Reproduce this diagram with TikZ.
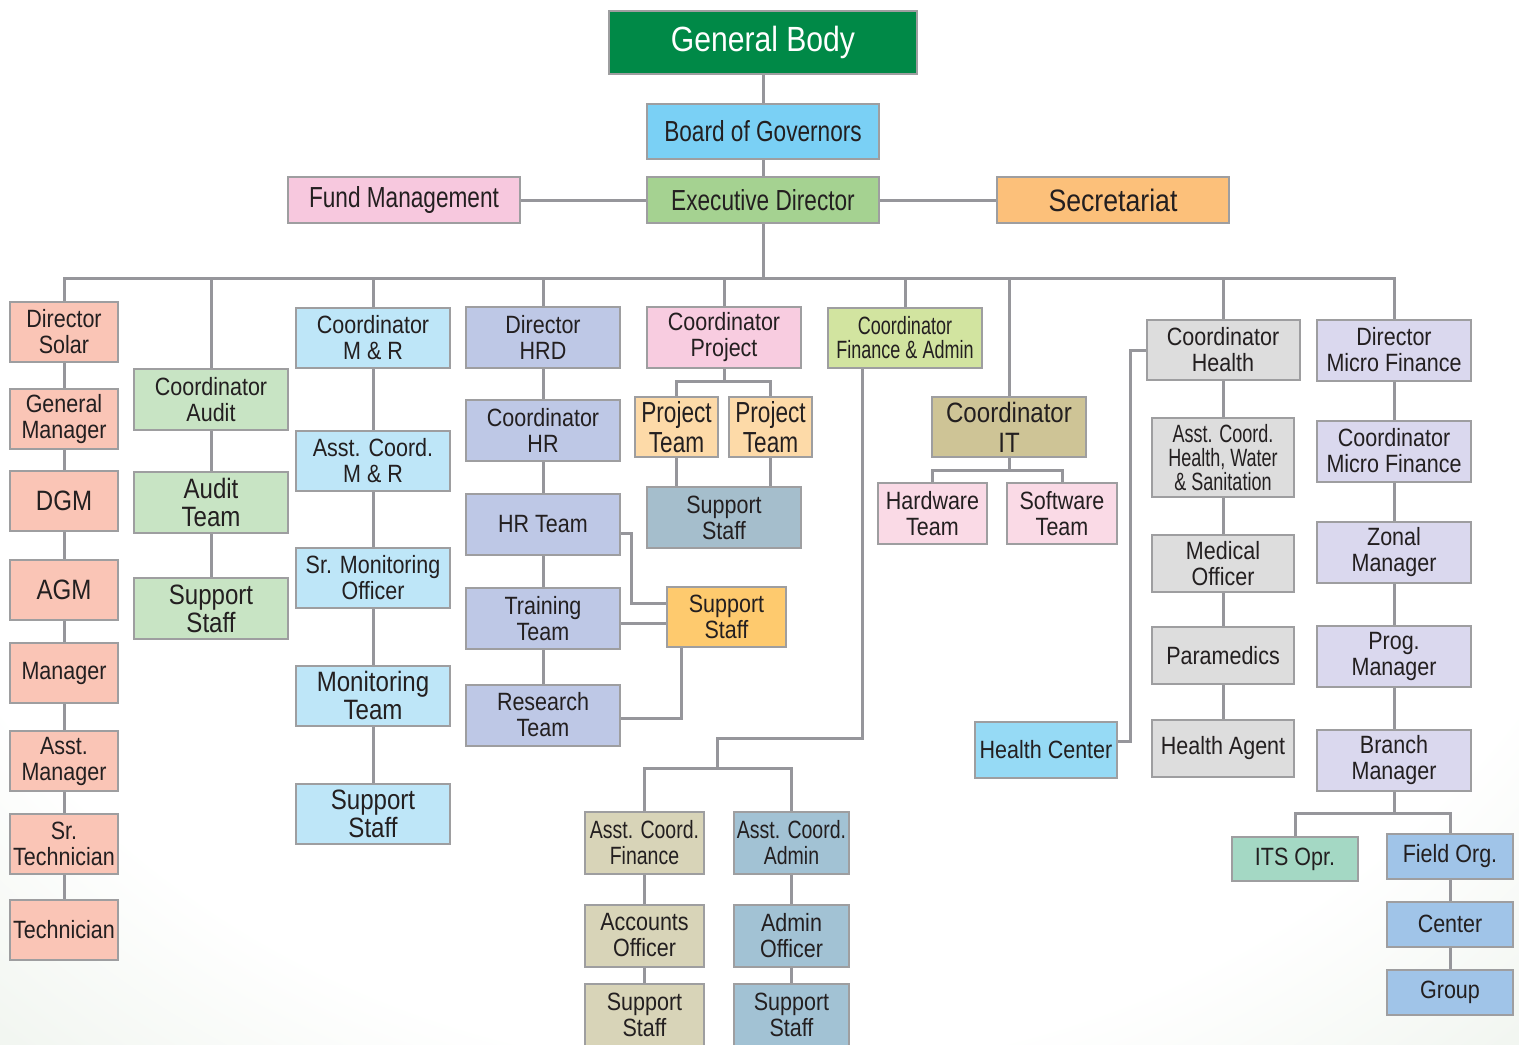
\documentclass[tikz,border=0pt]{standalone}
\usepackage{fontspec}
\setmainfont{Liberation Sans}[FakeStretch=0.86]
\newfontfamily\condfont{Liberation Sans}[FakeStretch=0.78]
\newfontfamily\narrowfont{Liberation Sans}[FakeStretch=0.72]
\usetikzlibrary{calc}

\definecolor{ink}{RGB}{35,31,32}
\definecolor{boxline}{RGB}{158,158,160}
\definecolor{linkgray}{RGB}{150,150,155}
\definecolor{bggreen}{RGB}{203,219,199}
\definecolor{gbgreen}{RGB}{0,137,71}
\definecolor{bogblue}{RGB}{122,208,245}
\definecolor{edgreen}{RGB}{165,210,145}
\definecolor{fmpink}{RGB}{247,200,222}
\definecolor{secorange}{RGB}{252,192,122}
\definecolor{salmon}{RGB}{250,197,182}
\definecolor{audgreen}{RGB}{200,228,196}
\definecolor{mrblue}{RGB}{190,230,248}
\definecolor{hrdblue}{RGB}{190,200,230}
\definecolor{projpink}{RGB}{248,204,224}
\definecolor{projpeach}{RGB}{253,218,168}
\definecolor{supgray}{RGB}{165,190,204}
\definecolor{suporange}{RGB}{254,202,110}
\definecolor{fagreen}{RGB}{210,228,160}
\definecolor{itkhaki}{RGB}{206,196,150}
\definecolor{itpink}{RGB}{250,218,230}
\definecolor{hcblue}{RGB}{150,218,245}
\definecolor{hlgray}{RGB}{221,221,221}
\definecolor{mflav}{RGB}{218,216,238}
\definecolor{itsmint}{RGB}{164,216,196}
\definecolor{fieldblue}{RGB}{160,196,232}
\definecolor{finbeige}{RGB}{216,212,184}
\definecolor{adminblue}{RGB}{162,194,212}

\pgfdeclareradialshading{bgglow}{\pgfpoint{0bp}{0bp}}{color(0bp)=(white); color(12bp)=(white); color(25bp)=(bggreen); color(50bp)=(bggreen)}

\begin{document}
\begin{tikzpicture}[x=0.5pt, y=-0.5pt,
    box/.style={draw=boxline, line width=1pt, align=center, inner sep=1pt, text=ink, font=\fontsize{12.5}{13}\selectfont},
    sz/.style 2 args={minimum width=#1*0.5pt, minimum height=#2*0.5pt},
    top/.style={font=\condfont\fontsize{14.5}{15}\selectfont},
    large/.style={font=\fontsize{14}{14}\selectfont},
    cond/.style={font=\condfont\fontsize{12.5}{13}\selectfont},
    narrow/.style={font=\narrowfont\fontsize{12.5}{12}\selectfont},
    link/.style={draw=linkgray, line width=1.5pt}]
    \useasboundingbox (0,0) rectangle (1519,1044);
    \begin{scope}
        \clip (0,0) rectangle (1519,1044);
        \shade[shading=bgglow] (-1140,-1450) rectangle (2660,1950);
    \end{scope}

    % top of the chart
    \node[box, sz={308}{63}, fill=gbgreen, text=white, font=\fontsize{17.5}{18}\selectfont] (gb) at (763,42.5) {General Body};
    \node[box, top, sz={232}{55}, fill=bogblue] (bog) at (763,131.5) {Board of Governors};
    \node[box, top, sz={232}{46}, fill=edgreen] (ed) at (763,200) {Executive Director};
    \node[box, top, sz={232}{46}, fill=fmpink] (fm) at (404,200) {Fund Management};
    \node[box, sz={232}{46}, fill=secorange, font=\fontsize{15.5}{16}\selectfont] (sec) at (1113,200) {Secretariat};

    % solar
    \node[box, sz={108}{60}, fill=salmon] (ds) at (64,332) {Director\\Solar};
    \node[box, sz={108}{60}, fill=salmon] (gm) at (64,419) {General\\Manager};
    \node[box, large, sz={108}{60}, fill=salmon] (dgm) at (64,501) {DGM};
    \node[box, large, sz={108}{60}, fill=salmon] (agm) at (64,590) {AGM};
    \node[box, sz={108}{60}, fill=salmon] (mgr) at (64,673) {Manager};
    \node[box, sz={108}{60}, fill=salmon] (amgr) at (64,761) {Asst.\\Manager};
    \node[box, sz={108}{60}, fill=salmon] (stech) at (64,844) {Sr.\\Technician};
    \node[box, sz={108}{60}, fill=salmon] (tech) at (64,930) {Technician};

    % audit
    \node[box, sz={154}{61}, fill=audgreen] (ca) at (211,399.5) {Coordinator\\Audit};
    \node[box, large, sz={154}{61}, fill=audgreen] (at) at (211,502.5) {Audit\\Team};
    \node[box, large, sz={154}{61}, fill=audgreen] (ss2) at (211,608.5) {Support\\Staff};

    % monitoring
    \node[box, sz={154}{60}, fill=mrblue] (cmr) at (373,338) {Coordinator\\M \& R};
    \node[box, sz={154}{60}, fill=mrblue] (amr) at (373,461) {Asst. Coord.\\M \& R};
    \node[box, sz={154}{60}, fill=mrblue] (smo) at (373,578) {Sr. Monitoring\\Officer};
    \node[box, large, sz={154}{60}, fill=mrblue] (mt) at (373,695.5) {Monitoring\\Team};
    \node[box, large, sz={154}{60}, fill=mrblue] (ss3) at (373,813.5) {Support\\Staff};

    % hrd
    \node[box, sz={154}{61}, fill=hrdblue] (dhrd) at (543,337.5) {Director\\HRD};
    \node[box, sz={154}{61}, fill=hrdblue] (chr) at (543,430.5) {Coordinator\\HR};
    \node[box, sz={154}{61}, fill=hrdblue] (hrt) at (543,524.5) {HR Team};
    \node[box, sz={154}{61}, fill=hrdblue] (tt) at (543,618.5) {Training\\Team};
    \node[box, sz={154}{61}, fill=hrdblue] (rt) at (543,715) {Research\\Team};
    \node[box, sz={119}{60}, fill=suporange] (ss4) at (726.5,617) {Support\\Staff};

    % project
    \node[box, sz={154}{61}, fill=projpink] (cp) at (724,337.5) {Coordinator\\Project};
    \node[box, top, sz={83}{60}, fill=projpeach] (pt1) at (676.5,427) {Project\\Team};
    \node[box, top, sz={83}{60}, fill=projpeach] (pt2) at (770.5,427) {Project\\Team};
    \node[box, sz={154}{61}, fill=supgray] (ss5) at (724,517.5) {Support\\Staff};

    % finance and admin
    \node[box, narrow, sz={154}{60}, fill=fagreen] (cfa) at (905,338) {Coordinator\\Finance \& Admin};
    \node[box, cond, sz={119}{62}, fill=finbeige] (acf) at (644.5,843) {Asst. Coord.\\Finance};
    \node[box, sz={119}{62}, fill=finbeige] (ao) at (644.5,935.5) {Accounts\\Officer};
    \node[box, sz={119}{62}, fill=finbeige] (ss6a) at (644.5,1015) {Support\\Staff};
    \node[box, cond, sz={115}{62}, fill=adminblue] (aca) at (791.5,843) {Asst. Coord.\\Admin};
    \node[box, sz={115}{62}, fill=adminblue] (ado) at (791.5,935.5) {Admin\\Officer};
    \node[box, sz={115}{62}, fill=adminblue] (ss6b) at (791.5,1015) {Support\\Staff};

    % it
    \node[box, sz={154}{60}, fill=itkhaki, font=\fontsize{14}{15}\selectfont] (cit) at (1009,427) {Coordinator\\IT};
    \node[box, sz={109}{61}, fill=itpink] (hw) at (932.5,513.5) {Hardware\\Team};
    \node[box, sz={110}{61}, fill=itpink] (sw) at (1062,513.5) {Software\\Team};

    % health
    \node[box, sz={142}{56}, fill=hcblue] (hc) at (1046,750) {Health Center};
    \node[box, sz={153}{60}, fill=hlgray] (ch) at (1223,350) {Coordinator\\Health};
    \node[box, narrow, sz={142}{79}, fill=hlgray] (ach) at (1223,457.5) {Asst. Coord.\\Health, Water\\\& Sanitation};
    \node[box, sz={142}{57}, fill=hlgray] (mo) at (1223,563.5) {Medical\\Officer};
    \node[box, sz={142}{57}, fill=hlgray] (para) at (1223,655.5) {Paramedics};
    \node[box, sz={142}{57}, fill=hlgray] (ha) at (1223,748) {Health Agent};

    % micro finance
    \node[box, sz={154}{61}, fill=mflav] (dmf) at (1394,350) {Director\\Micro Finance};
    \node[box, sz={154}{61}, fill=mflav] (cmf) at (1394,451) {Coordinator\\Micro Finance};
    \node[box, sz={154}{61}, fill=mflav] (zm) at (1394,552.5) {Zonal\\Manager};
    \node[box, sz={154}{61}, fill=mflav] (pm) at (1394,656) {Prog.\\Manager};
    \node[box, sz={154}{61}, fill=mflav] (bm) at (1394,760.5) {Branch\\Manager};
    \node[box, sz={126}{44}, fill=itsmint] (its) at (1295,859) {ITS Opr.};
    \node[box, sz={126}{45}, fill=fieldblue] (fo) at (1450,856.5) {Field Org.};
    \node[box, sz={126}{45}, fill=fieldblue] (cen) at (1450,924) {Center};
    \node[box, sz={126}{45}, fill=fieldblue] (grp) at (1450,992) {Group};

    \coordinate (bus) at (763,278);
    \coordinate (pj) at (724,381);
    \coordinate (itj) at (1009,470);
    \coordinate (fa1) at (717,738);
    \coordinate (fa2) at (717,768);
    \coordinate (mj) at (1394,813);

    \draw[link] (gb) -- (bog) -- (ed);
    \draw[link] (fm) -- (ed) -- (sec);
    \draw[link] (ed) -- (bus);
    \draw[link] (ds.north) |- (bus) -| (dmf.north);
    \draw[link] (ca.north) -- (ca.north |- bus);
    \draw[link] (cmr.north) -- (cmr.north |- bus);
    \draw[link] (dhrd.north) -- (dhrd.north |- bus);
    \draw[link] (cp.north) -- (cp.north |- bus);
    \draw[link] (cfa.north) -- (cfa.north |- bus);
    \draw[link] (cit.north) -- (cit.north |- bus);
    \draw[link] (ch.north) -- (ch.north |- bus);

    \draw[link] (ds) -- (gm) -- (dgm) -- (agm) -- (mgr) -- (amgr) -- (stech) -- (tech);
    \draw[link] (ca) -- (at) -- (ss2);
    \draw[link] (cmr) -- (amr) -- (smo) -- (mt) -- (ss3);
    \draw[link] (dhrd) -- (chr) -- (hrt) -- (tt) -- (rt);
    \draw[link] ($(hrt.east)+(0,9)$) -| ($(ss4.west)+(-35,-14)$) -- ($(ss4.west)+(0,-14)$);
    \draw[link] ($(tt.east)+(0,5)$) -- ($(ss4.west)+(0,6.5)$);
    \draw[link] ($(rt.east)+(0,3)$) -| ($(ss4.south)+(-45,0)$);

    \draw[link] (cp) -- (pj);
    \draw[link] (pt1.north) |- (pj) -| (pt2.north);
    \draw[link] (pt1) -- (pt1 |- ss5.north);
    \draw[link] (pt2) -- (pt2 |- ss5.north);

    \draw[link] ($(cfa.south)+(-43,0)$) |- (fa1) -- (fa2);
    \draw[link] (acf.north) |- (fa2) -| (aca.north);
    \draw[link] (acf) -- (ao) -- (ss6a);
    \draw[link] (aca) -- (ado) -- (ss6b);

    \draw[link] (cit) -- (itj);
    \draw[link] (hw.north) |- (itj) -| (sw.north);

    \draw[link] ($(hc.east)+(0,-9)$) -- ++(12,0) |- (ch.west);
    \draw[link] (ch) -- (ach) -- (mo) -- (para) -- (ha);

    \draw[link] (dmf) -- (cmf) -- (zm) -- (pm) -- (bm);
    \draw[link] (bm) -- (mj);
    \draw[link] (its.north) |- (mj) -| (fo.north);
    \draw[link] (fo) -- (cen) -- (grp);
\end{tikzpicture}
\end{document}
